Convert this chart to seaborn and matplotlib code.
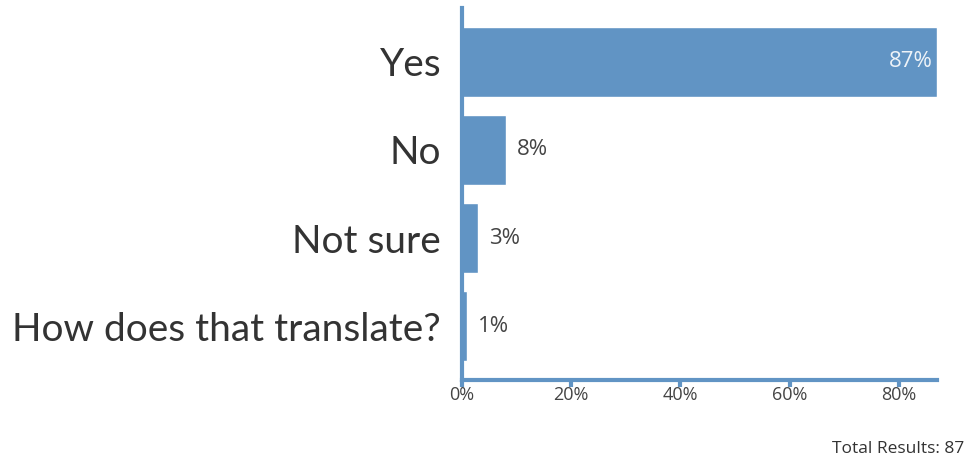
import pandas as pd
import matplotlib.pyplot as plt
import seaborn as sns

answers = ["Yes", "No", "Not sure", "How does that translate?"]
percents = [87, 8, 3, 1]
ticks = [0, 20, 40, 60, 80]
total = 87

df = pd.DataFrame({"answer": answers, "percent": percents})

sns.set_style("white")
plt.rcParams['font.family'] = ['Lato', 'DejaVu Sans']
blue = "#6194c4"

fig = plt.figure(figsize=(9.66, 4.61), dpi=100)
ax = fig.add_axes([462 / 966, 81 / 461, 475 / 966, 372 / 461])
sns.barplot(data=df, x="percent", y="answer", color=blue, saturation=1,
            width=0.79, ax=ax)

ax.set_xlim(0, 87)
ax.set_ylim(3.61, -0.61)
ax.set_xticks(ticks)
ax.set_xticklabels([f"{t}%" for t in ticks], fontsize=13, color="#444444",
                   family=["Open Sans", "DejaVu Sans"])
ax.set_xlabel("")
ax.set_ylabel("")
ax.tick_params(axis="y", length=0, labelsize=28, labelcolor="#333333", pad=15)
ax.tick_params(axis="x", bottom=True, direction="out", length=5, width=3,
               color=blue, pad=-1)

for s in ["top", "right"]:
    ax.spines[s].set_visible(False)
for s in ["left", "bottom"]:
    ax.spines[s].set_color(blue)
    ax.spines[s].set_linewidth(3)

# value labels: inside the long bar, outside the short ones
for i, p in enumerate(percents):
    if p > 50:
        ax.text(p - 0.8, i, f"{p}%", ha="right", va="center", fontsize=16,
                color="#eef3f8", family=["Open Sans", "DejaVu Sans"])
    else:
        ax.text(p + 2.0, i, f"{p}%", ha="left", va="center", fontsize=16,
                color="#444444", family=["Open Sans", "DejaVu Sans"])

fig.text(964 / 966, 1 - 449 / 461, f"Total Results: {total}", ha="right", va="center",
         fontsize=12.5, color="#333333", family=["Open Sans", "DejaVu Sans"])

fig.savefig("out.png", dpi=100)
